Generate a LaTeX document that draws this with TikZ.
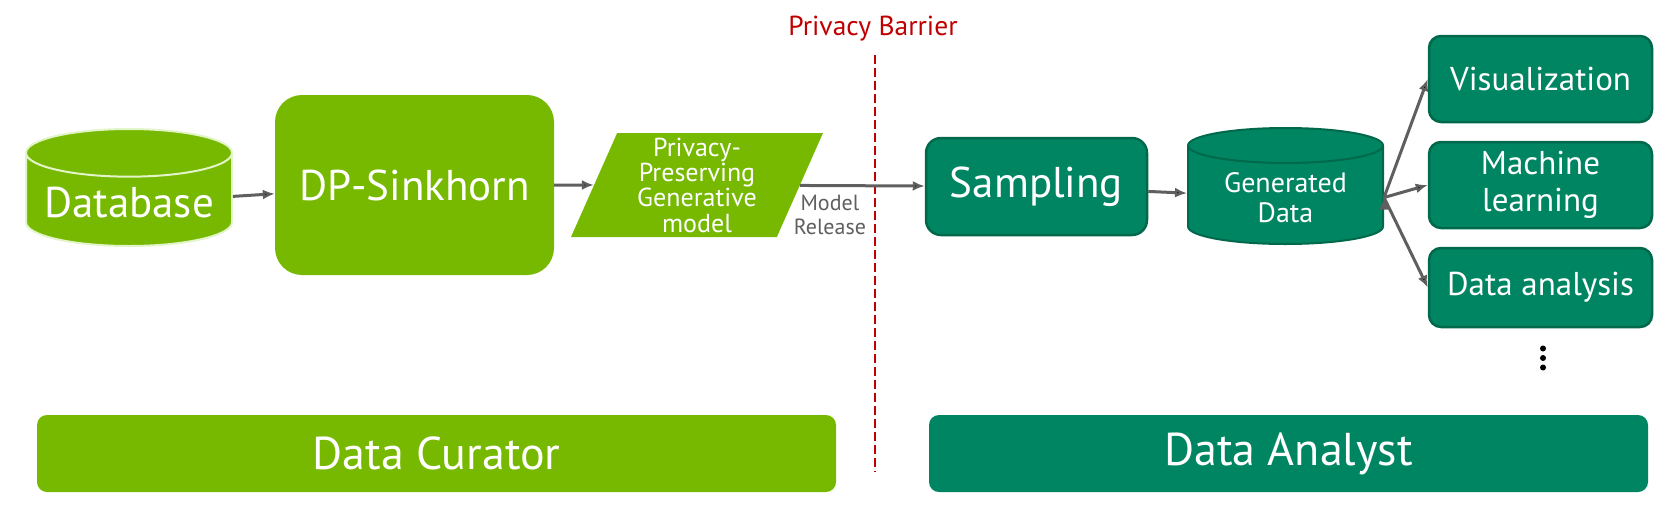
\documentclass[tikz,border=0pt]{standalone}
\usepackage{fontspec}
\setmainfont{PT Sans}
\usepackage{tikz}
\usetikzlibrary{arrows.meta}
\usetikzlibrary{positioning}
\usetikzlibrary{shapes}

\definecolor{curatorgreen}{HTML}{76B900}
\definecolor{analystgreen}{HTML}{008563}
\definecolor{analystedge}{HTML}{00684B}
\definecolor{dbedge}{HTML}{E3F4C9}
\definecolor{arrowgray}{HTML}{5F5F5F}
\definecolor{barrierred}{HTML}{C00000}

\begin{document}
\begin{tikzpicture}[x=1pt, y=-1pt, on grid, node distance=106pt, >={Latex[length=12pt,width=10pt]},
    every node/.style={text=white, align=center},
    bigfont/.style={font=\fontsize{43}{48}\selectfont},
    curator db/.style={cylinder, shape border rotate=90, aspect=0.27, fill=curatorgreen, draw=dbedge,
                       line width=2pt, minimum width=206pt, minimum height=117pt, bigfont},
    analyst db/.style={cylinder, shape border rotate=90, aspect=0.27, fill=analystgreen, draw=analystedge,
                       line width=2pt, minimum width=195pt, minimum height=116pt,
                       font=\fontsize{28}{30}\selectfont},
    curator box/.style={rectangle, fill=curatorgreen, rounded corners=27pt, bigfont},
    analyst box/.style={rectangle, fill=analystgreen, draw=analystedge, line width=2.5pt, rounded corners=15pt},
    task box/.style={analyst box, rounded corners=12pt, minimum width=223pt, minimum height=86pt,
                     font=\fontsize{33}{37}\selectfont},
    model shape/.style={trapezium, trapezium left angle=64, trapezium right angle=116, trapezium stretches body,
                        fill=curatorgreen, minimum width=252pt, minimum height=104pt, inner sep=0pt,
                        font=\fontsize{26}{25.3}\selectfont},
    role bar/.style={rectangle, rounded corners=10pt, minimum height=77pt, font=\fontsize{46}{50}\selectfont},
    flow/.style={->, draw=arrowgray, line width=3pt},
    barrier/.style={draw=barrierred, line width=2.5pt, dash pattern=on 9pt off 4pt}]

    \useasboundingbox (0,0) rectangle (1672,523);

    % curator side
    \node[curator db, anchor=shape center]            (db)       at (129,187.5)   {Database};
    \node[curator box, minimum width=279pt,
          minimum height=180pt]                       (sinkhorn) at (414.5,185)   {DP-Sinkhorn};
    \node[model shape]                                (model)    at (697,185)     {Privacy-\\Preserving\\Generative\\model};

    % analyst side
    \node[analyst box, minimum width=221pt, minimum height=97pt,
          bigfont]                                    (sampling) at (1036.5,186.5) {Sampling};
    \node[analyst db, anchor=shape center]            (gen)      at (1285.5,186)  {Generated\\Data};

    \node[task box]                                   (ml)       at (1540.5,185)  {Machine\\learning};
    \node[task box]                                   (vis)      [above of=ml]    {Visualization};
    \node[task box, minimum height=79pt,
          node distance=102.5pt]                      (ana)      [below of=ml]    {Data analysis};
    \path (ana) ++(2.5,70.5) coordinate (dots);
    \foreach \dy in {-9.5,0,9.5}
      \fill (dots) ++(0,\dy) circle (3pt);

    % roles
    \node[role bar, fill=curatorgreen, minimum width=799pt] (curator) at (436.5,453.5)  {Data Curator};
    \node[role bar, fill=analystgreen, minimum width=719pt] (analyst) at (1288.5,453.5) {Data Analyst};

    % barrier
    \node[text=barrierred, font=\fontsize{27.5}{30}\selectfont] (barrier) at (873,29) {Privacy Barrier};
    \coordinate (barrier top)    at (875,55);
    \coordinate (barrier bottom) at (875,472);
    \draw[barrier] (barrier top) -- (barrier bottom);

    \path[flow]
      (db)       edge []  (sinkhorn)
      (sinkhorn) edge []  (model)
      (model)    edge []  node[pos=0.24, anchor=north, yshift=-5pt, text=arrowgray,
                               font=\fontsize{22}{24}\selectfont] (release) {Model\\Release} (sampling)
      (sampling) edge []  (gen)
      (gen.east) edge []  (vis.west)
                 edge []  (ml.west)
                 edge []  (ana.west);

\end{tikzpicture}
\end{document}
